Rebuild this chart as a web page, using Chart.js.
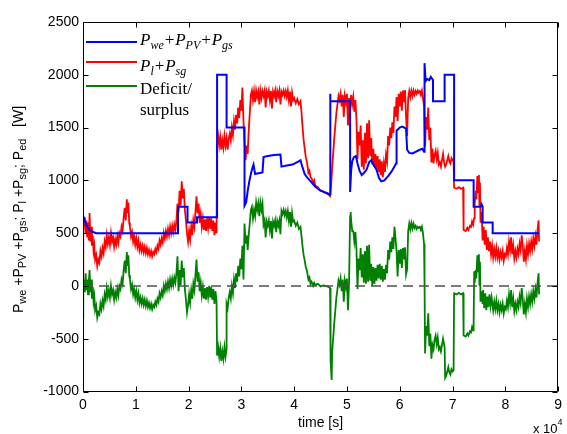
<!DOCTYPE html>
<html>
<head>
<meta charset="utf-8">
<script src="https://cdn.jsdelivr.net/npm/chart.js@4.4.0/dist/chart.umd.min.js"></script>
<style>
  html, body { margin: 0; padding: 0; background: #fff; }
</style>
</head>
<body>
<canvas id="powerChart" width="567" height="434"></canvas>
<script>
// time in x10^4 s, power in W
const blue = [
  [0, 670], [0.03, 620], [0.06, 580], [0.1, 545], [0.15, 520], [0.25, 500], [1.8, 500], [1.8, 750],
  [1.98, 750], [1.98, 600], [2.16, 600], [2.16, 650], [2.54, 650], [2.54, 2000], [2.72, 2000],
  [2.72, 1500], [3.06, 1500], [3.06, 760], [3.09, 790], [3.12, 900], [3.15, 990], [3.18, 1060],
  [3.21, 1120], [3.23, 1150], [3.26, 1060], [3.3, 1065], [3.4, 1075], [3.42, 1220], [3.5, 1230],
  [3.62, 1240], [3.74, 1245], [3.76, 1130], [3.86, 1140], [3.97, 1150], [4.05, 1170], [4.12, 1190],
  [4.16, 1120], [4.2, 1060], [4.24, 1030], [4.28, 1010], [4.33, 980], [4.4, 940], [4.48, 910],
  [4.56, 890], [4.62, 880], [4.68, 865], [4.68, 1820], [4.69, 1750], [5.06, 1750], [5.06, 890],
  [5.08, 1100], [5.1, 1180], [5.13, 1220], [5.17, 1230], [5.2, 1160], [5.24, 1090], [5.28, 1050],
  [5.32, 1070], [5.37, 1100], [5.42, 1170], [5.46, 1190], [5.5, 1150], [5.56, 1100], [5.61, 1020],
  [5.65, 990], [5.71, 1000], [5.78, 1040], [5.84, 1080], [5.9, 1130], [5.93, 1160], [5.94, 1470],
  [6.0, 1500], [6.05, 1510], [6.12, 1490], [6.14, 1290], [6.18, 1260], [6.24, 1255], [6.3, 1270],
  [6.36, 1285], [6.43, 1300], [6.46, 1270], [6.47, 2110], [6.49, 1940], [6.52, 1960], [6.56, 1950],
  [6.59, 1980], [6.63, 1950], [6.63, 1750], [6.85, 1750], [6.85, 2000], [7.03, 2000], [7.03, 1000],
  [7.4, 1000], [7.4, 750], [7.53, 750], [7.55, 775], [7.57, 750], [7.57, 600], [7.76, 600],
  [7.76, 500], [8.64, 500]
];

const red = [
  [0, 0], [0.005, 640], [0.02, 560], [0.035, 650], [0.05, 500], [0.065, 620], [0.08, 460], [0.095, 600],
  [0.11, 430], [0.125, 690], [0.14, 420], [0.155, 560], [0.17, 380], [0.185, 470], [0.2, 330],
  [0.215, 380], [0.23, 250], [0.25, 290], [0.27, 190], [0.29, 250], [0.31, 220], [0.33, 330],
  [0.35, 280], [0.37, 360], [0.39, 310], [0.41, 420], [0.43, 370], [0.45, 480], [0.47, 400],
  [0.49, 460], [0.51, 390], [0.53, 500], [0.55, 420], [0.57, 460], [0.59, 370], [0.61, 440],
  [0.63, 390], [0.65, 470], [0.67, 410], [0.69, 500], [0.71, 470], [0.73, 560], [0.75, 520],
  [0.77, 650], [0.79, 740], [0.81, 620], [0.83, 820], [0.845, 690], [0.86, 790], [0.875, 600],
  [0.89, 560], [0.91, 470], [0.93, 510], [0.95, 420], [0.97, 470], [0.99, 390], [1.01, 450],
  [1.03, 370], [1.05, 430], [1.07, 340], [1.09, 390], [1.11, 330], [1.13, 380], [1.15, 320],
  [1.17, 370], [1.19, 310], [1.21, 360], [1.23, 300], [1.25, 340], [1.27, 290], [1.29, 330],
  [1.31, 280], [1.33, 320], [1.35, 300], [1.37, 350], [1.39, 320], [1.41, 380], [1.43, 350],
  [1.45, 430], [1.47, 390], [1.49, 450], [1.51, 410], [1.53, 500], [1.55, 450], [1.57, 520],
  [1.59, 470], [1.61, 540], [1.63, 480], [1.65, 560], [1.67, 500], [1.69, 570], [1.71, 510],
  [1.73, 580], [1.75, 530], [1.77, 620], [1.79, 780], [1.81, 700], [1.83, 900], [1.85, 760],
  [1.87, 990], [1.89, 830], [1.91, 920], [1.93, 720], [1.95, 620], [1.97, 500], [1.99, 420],
  [2.01, 520], [2.03, 440], [2.05, 560], [2.07, 480], [2.09, 620], [2.11, 560], [2.13, 700],
  [2.15, 850], [2.17, 690], [2.19, 780], [2.21, 600], [2.23, 680], [2.25, 560], [2.27, 640],
  [2.29, 530], [2.31, 630], [2.33, 520], [2.35, 640], [2.37, 550], [2.39, 650], [2.41, 540],
  [2.43, 640], [2.45, 520], [2.47, 620], [2.49, 480], [2.51, 600], [2.53, 500],
  [2.54, 1340], [2.56, 1420], [2.58, 1330], [2.6, 1410], [2.62, 1290], [2.64, 1380], [2.66, 1310],
  [2.68, 1420], [2.7, 1330], [2.72, 1400], [2.74, 1290], [2.76, 1390], [2.78, 1440], [2.8, 1380],
  [2.82, 1500], [2.84, 1430], [2.86, 1560], [2.88, 1480], [2.9, 1620], [2.92, 1540], [2.94, 1690],
  [2.96, 1590], [2.98, 1760], [3.0, 1660], [3.02, 1880], [3.04, 1560], [3.06, 1350], [3.08, 1190],
  [3.1, 1330], [3.12, 1250], [3.14, 1480], [3.16, 1640], [3.18, 1810], [3.2, 1850], [3.22, 1760],
  [3.24, 1845], [3.26, 1740], [3.28, 1850], [3.3, 1790], [3.32, 1840], [3.34, 1720], [3.36, 1850],
  [3.38, 1780], [3.4, 1845], [3.42, 1800], [3.44, 1850], [3.46, 1690], [3.48, 1840], [3.5, 1800],
  [3.52, 1850], [3.54, 1760], [3.56, 1845], [3.58, 1680], [3.6, 1840], [3.62, 1800], [3.64, 1850],
  [3.66, 1740], [3.68, 1845], [3.7, 1800], [3.72, 1850], [3.74, 1720], [3.76, 1840], [3.78, 1810],
  [3.8, 1850], [3.82, 1800], [3.84, 1845], [3.86, 1790], [3.88, 1850], [3.9, 1760], [3.92, 1840],
  [3.94, 1700], [3.96, 1830], [3.98, 1760], [4.0, 1780], [4.03, 1730], [4.06, 1770], [4.09, 1720],
  [4.12, 1750], [4.14, 1640], [4.16, 1500], [4.18, 1380], [4.2, 1300], [4.22, 1220], [4.24, 1180],
  [4.26, 1110], [4.27, 1070], [4.29, 1090], [4.31, 1030], [4.33, 1020], [4.36, 980], [4.38, 1000],
  [4.4, 950], [4.45, 935], [4.5, 900], [4.55, 895], [4.6, 880], [4.65, 865], [4.68, 850],
  [4.7, 950], [4.72, 1120], [4.74, 1260], [4.76, 1400], [4.78, 1520], [4.8, 1640], [4.82, 1720],
  [4.84, 1800], [4.86, 1760], [4.88, 1820], [4.9, 1700], [4.92, 1810], [4.94, 1600], [4.96, 1800],
  [4.98, 1740], [5.0, 1820], [5.02, 1520], [5.04, 1780], [5.06, 1690], [5.08, 1810], [5.1, 1720],
  [5.12, 1790], [5.14, 1650], [5.16, 1760], [5.18, 1580], [5.2, 1200], [5.22, 1460], [5.24, 1330],
  [5.26, 1520], [5.28, 1130], [5.3, 1380], [5.32, 1100], [5.34, 1450], [5.36, 1160], [5.38, 1540],
  [5.4, 1210], [5.42, 1570], [5.44, 1230], [5.46, 1400], [5.48, 1150], [5.5, 1300], [5.52, 1130],
  [5.54, 1250], [5.56, 1100], [5.58, 1230], [5.6, 1080], [5.62, 1200], [5.64, 1050], [5.66, 1180],
  [5.68, 1030], [5.7, 1160], [5.72, 1080], [5.74, 1240], [5.76, 1180], [5.78, 1420], [5.8, 1330],
  [5.82, 1500], [5.84, 1400], [5.86, 1550], [5.88, 1450], [5.9, 1700], [5.92, 1600], [5.94, 1790],
  [5.96, 1560], [5.98, 1820], [6.0, 1700], [6.02, 1840], [6.04, 1660], [6.06, 1850], [6.08, 1740],
  [6.1, 1855], [6.12, 1600], [6.14, 1420], [6.16, 1780], [6.18, 1845], [6.2, 1790], [6.22, 1850],
  [6.24, 1800], [6.26, 1850], [6.28, 1810], [6.3, 1845], [6.32, 1820], [6.34, 1850], [6.36, 1830],
  [6.38, 1845], [6.4, 1810], [6.42, 1850], [6.44, 1780], [6.46, 1700], [6.48, 1320], [6.5, 1600],
  [6.52, 1480], [6.54, 1690], [6.56, 1380], [6.58, 1500], [6.6, 1170], [6.62, 1300], [6.64, 1160],
  [6.66, 1240], [6.68, 1280], [6.7, 1200], [6.72, 1260], [6.74, 1150], [6.76, 1170], [6.78, 1130],
  [6.8, 1190], [6.82, 1250], [6.84, 1170], [6.86, 1130], [6.88, 1150], [6.9, 1190], [6.92, 1230],
  [6.94, 1180], [6.96, 1160], [6.98, 1210], [7.0, 1190], [7.02, 1200], [7.03, 930], [7.08, 920],
  [7.12, 935], [7.16, 920], [7.2, 930], [7.21, 530], [7.25, 520], [7.28, 550], [7.3, 530],
  [7.33, 570], [7.35, 560], [7.37, 610], [7.39, 580], [7.41, 640], [7.42, 780], [7.44, 900],
  [7.45, 820], [7.47, 1040], [7.48, 880], [7.5, 1050], [7.51, 760], [7.52, 980], [7.53, 600],
  [7.55, 700], [7.57, 430], [7.59, 560], [7.61, 390], [7.63, 530], [7.65, 340], [7.67, 460],
  [7.69, 330], [7.71, 420], [7.73, 300], [7.75, 380], [7.77, 270], [7.79, 350], [7.81, 280],
  [7.83, 360], [7.85, 270], [7.87, 330], [7.89, 250], [7.91, 320], [7.93, 270], [7.95, 330],
  [7.97, 240], [7.99, 300], [8.01, 280], [8.03, 360], [8.05, 300], [8.07, 420], [8.09, 340],
  [8.11, 460], [8.13, 300], [8.15, 380], [8.17, 260], [8.19, 330], [8.21, 270], [8.23, 350],
  [8.25, 300], [8.27, 400], [8.29, 340], [8.31, 480], [8.33, 380], [8.35, 230], [8.37, 330],
  [8.39, 250], [8.41, 380], [8.43, 300], [8.45, 400], [8.47, 330], [8.49, 420], [8.51, 350],
  [8.53, 450], [8.55, 380], [8.57, 470], [8.59, 390], [8.61, 530], [8.63, 620], [8.64, 420]
];

const green = [
  [0, -300], [0.005, -20], [0.02, 60], [0.035, -60], [0.05, 120], [0.065, -40], [0.08, 60],
  [0.095, -80], [0.11, 40], [0.125, 150], [0.14, -60], [0.155, 60], [0.17, -120], [0.185, -10],
  [0.2, -150], [0.215, -100], [0.23, -230], [0.25, -190], [0.27, -300], [0.29, -250], [0.31, -270],
  [0.33, -170], [0.35, -220], [0.37, -140], [0.39, -190], [0.41, -80], [0.43, -130], [0.45, -20],
  [0.47, -100], [0.49, -40], [0.51, -110], [0.53, 0], [0.55, -80], [0.57, -40], [0.59, -130],
  [0.61, -60], [0.63, -110], [0.65, -30], [0.67, -90], [0.69, 0], [0.71, -30], [0.73, 60],
  [0.75, 20], [0.77, 150], [0.79, 240], [0.81, 120], [0.83, 320], [0.845, 190], [0.86, 290],
  [0.875, 100], [0.89, 60], [0.91, -30], [0.93, 10], [0.95, -80], [0.97, -30], [0.99, -110],
  [1.01, -50], [1.03, -130], [1.05, -70], [1.07, -160], [1.09, -110], [1.11, -170], [1.13, -120],
  [1.15, -180], [1.17, -130], [1.19, -190], [1.21, -140], [1.23, -200], [1.25, -160], [1.27, -210],
  [1.29, -170], [1.31, -220], [1.33, -180], [1.35, -200], [1.37, -150], [1.39, -180], [1.41, -120],
  [1.43, -150], [1.45, -70], [1.47, -110], [1.49, -50], [1.51, -90], [1.53, 0], [1.55, -50],
  [1.57, 20], [1.59, -30], [1.61, 40], [1.63, -20], [1.65, 60], [1.67, 0], [1.69, 70], [1.71, 10],
  [1.73, 80], [1.75, 30], [1.77, 120], [1.79, 280], [1.81, -50], [1.83, 150], [1.85, 10],
  [1.87, 240], [1.89, 80], [1.91, 170], [1.93, -30], [1.95, -130], [1.97, -250], [1.99, -180],
  [2.01, -80], [2.03, -160], [2.05, -40], [2.07, -120], [2.09, 20], [2.11, -40], [2.13, 100],
  [2.15, 250], [2.17, 40], [2.19, 130], [2.21, -50], [2.23, 30], [2.25, -90], [2.27, -10],
  [2.29, -120], [2.31, -20], [2.33, -130], [2.35, -10], [2.37, -100], [2.39, 0], [2.41, -110],
  [2.43, -10], [2.45, -130], [2.47, -30], [2.49, -170], [2.51, -50], [2.53, -150],
  [2.54, -660], [2.56, -580], [2.58, -670], [2.6, -590], [2.62, -710], [2.64, -620], [2.66, -690],
  [2.68, -580], [2.7, -670], [2.72, -600], [2.72, -170], [2.74, -210], [2.76, -110], [2.78, -60],
  [2.8, -120], [2.82, 0], [2.84, -70], [2.86, 60], [2.88, -20], [2.9, 120], [2.92, 40], [2.94, 190],
  [2.96, 90], [2.98, 260], [3.0, 160], [3.02, 380], [3.04, 60], [3.06, 590], [3.08, 400], [3.1, 480],
  [3.12, 340], [3.14, 490], [3.16, 600], [3.18, 720], [3.2, 750], [3.22, 640], [3.24, 720],
  [3.26, 660], [3.28, 790], [3.3, 720], [3.32, 780], [3.34, 660], [3.36, 790], [3.38, 720],
  [3.4, 780], [3.42, 580], [3.44, 620], [3.46, 460], [3.48, 610], [3.5, 570], [3.52, 620],
  [3.54, 530], [3.56, 615], [3.58, 450], [3.6, 610], [3.62, 570], [3.64, 620], [3.66, 510],
  [3.68, 615], [3.7, 570], [3.72, 620], [3.74, 490], [3.76, 710], [3.78, 680], [3.8, 720],
  [3.82, 670], [3.84, 710], [3.86, 650], [3.88, 710], [3.9, 620], [3.92, 700], [3.94, 560],
  [3.96, 690], [3.98, 610], [4.0, 620], [4.03, 570], [4.06, 600], [4.09, 540], [4.12, 560],
  [4.14, 470], [4.16, 370], [4.18, 290], [4.2, 240], [4.22, 180], [4.24, 150], [4.26, 90],
  [4.27, 60], [4.29, 80], [4.31, 20], [4.33, 40], [4.36, 0], [4.38, 30], [4.4, 10], [4.45, 20],
  [4.5, -5], [4.55, 5], [4.6, 0], [4.65, -10], [4.68, -20], [4.69, -700], [4.7, -800], [4.71, -890],
  [4.72, -630], [4.74, -490], [4.76, -350], [4.78, -230], [4.8, -110], [4.82, -30], [4.84, 50],
  [4.86, 10], [4.88, 70], [4.9, -50], [4.92, 60], [4.94, -150], [4.96, 50], [4.98, -10], [5.0, 70],
  [5.02, -230], [5.04, 30], [5.06, 660], [5.07, 700], [5.08, 620], [5.1, 520], [5.12, 520],
  [5.14, 420], [5.16, 510], [5.18, 350], [5.2, -30], [5.22, 260], [5.24, 150], [5.26, 360],
  [5.28, 80], [5.3, 300], [5.32, 30], [5.34, 330], [5.36, 20], [5.38, 380], [5.4, 40], [5.42, 390],
  [5.44, 50], [5.46, 210], [5.48, 0], [5.5, 180], [5.52, 20], [5.54, 170], [5.56, 50], [5.58, 200],
  [5.6, 70], [5.62, 210], [5.64, 60], [5.66, 190], [5.68, 40], [5.7, 160], [5.72, 60], [5.74, 200],
  [5.76, 120], [5.78, 340], [5.8, 250], [5.82, 420], [5.84, 320], [5.86, 460], [5.88, 350],
  [5.9, 560], [5.92, 450], [5.94, 330], [5.96, 90], [5.98, 340], [6.0, 210], [6.02, 350],
  [6.04, 170], [6.06, 360], [6.08, 250], [6.1, 365], [6.12, 110], [6.14, 160], [6.16, 520],
  [6.18, 590], [6.2, 535], [6.22, 595], [6.24, 545], [6.26, 590], [6.28, 550], [6.3, 570],
  [6.32, 540], [6.34, 560], [6.36, 550], [6.38, 560], [6.4, 530], [6.42, 560], [6.44, 500],
  [6.46, 400], [6.47, 20], [6.48, -640], [6.5, -380], [6.52, -470], [6.54, -260], [6.56, -570],
  [6.58, -450], [6.6, -690], [6.62, -560], [6.64, -600], [6.66, -510], [6.68, -470], [6.7, -550],
  [6.72, -490], [6.74, -600], [6.76, -580], [6.78, -620], [6.8, -560], [6.82, -500], [6.85, -580],
  [6.86, -870], [6.88, -850], [6.9, -810], [6.92, -770], [6.94, -820], [6.96, -840], [6.98, -790],
  [7.0, -810], [7.02, -800], [7.03, -70], [7.08, -80], [7.12, -65], [7.16, -80], [7.2, -70],
  [7.21, -470], [7.25, -480], [7.28, -450], [7.3, -470], [7.33, -430], [7.35, -440], [7.37, -390],
  [7.39, -420], [7.4, -360], [7.41, 140], [7.42, 30], [7.44, 150], [7.45, 70], [7.47, 290],
  [7.48, 130], [7.5, 300], [7.51, 10], [7.52, 230], [7.53, -150], [7.55, -50], [7.57, -170],
  [7.58, -40], [7.6, -210], [7.62, -70], [7.64, -230], [7.66, -100], [7.68, -200], [7.7, -80],
  [7.72, -190], [7.74, -110], [7.77, -230], [7.79, -150], [7.81, -220], [7.83, -140], [7.85, -230],
  [7.87, -170], [7.89, -250], [7.91, -180], [7.93, -230], [7.95, -170], [7.97, -260], [7.99, -200],
  [8.01, -220], [8.03, -140], [8.05, -200], [8.07, -80], [8.09, -160], [8.11, -40], [8.13, -200],
  [8.15, -120], [8.17, -240], [8.19, -170], [8.21, -230], [8.23, -150], [8.25, -200], [8.27, -100],
  [8.29, -160], [8.31, -20], [8.33, -120], [8.35, -270], [8.37, -170], [8.39, -250], [8.41, -120],
  [8.43, -200], [8.45, -100], [8.47, -170], [8.49, -80], [8.51, -150], [8.53, -50], [8.55, -120],
  [8.57, -30], [8.59, -110], [8.61, 30], [8.63, 120], [8.64, -80]
];

const zeroLine = [[0, 0], [9, 0]];

const xTicks = [0, 1, 2, 3, 4, 5, 6, 7, 8, 9];
const yTicks = [-1000, -500, 0, 500, 1000, 1500, 2000, 2500];

// text pieces: [text, 0 normal | 1 subscript | 2 superscript]
const yTitle = [["P", 0], ["we", 1], [" +P", 0], ["PV", 1], [" +P", 0], ["gs", 1], ["; P", 0], ["l", 1],
  [" +P", 0], ["sg", 1], ["; P", 0], ["ed", 1], ["   [W]", 0]];
const legendRows = [
  { color: "#0000ff", lines: [[["P", 0], ["we", 1], ["+P", 0], ["PV", 1], ["+P", 0], ["gs", 1]]], italic: true },
  { color: "#ff0000", lines: [[["P", 0], ["l", 1], ["+P", 0], ["sg", 1]]], italic: true },
  { color: "#008000", lines: [[["Deficit/", 0]], [["surplus", 0]]], italic: false },
];

const SANS = '"Liberation Sans", Arial, sans-serif';
const SERIF = '"Liberation Serif", "Times New Roman", serif';

function pieceWidth(ctx, parts, font, subFont) {
  let w = 0;
  for (const [txt, kind] of parts) {
    ctx.font = kind ? subFont : font;
    w += ctx.measureText(txt).width;
  }
  return w;
}

function drawPieces(ctx, parts, x, y, font, subFont, subDy, supDy) {
  let cx = x;
  for (const [txt, kind] of parts) {
    ctx.font = kind ? subFont : font;
    const dy = kind === 1 ? subDy : kind === 2 ? -supDy : 0;
    ctx.fillText(txt, cx, y + dy);
    cx += ctx.measureText(txt).width;
  }
}

//Box, inward ticks, labels and legend
const decorations = {
  id: "decorations",
  afterDatasetsDraw(chart) {
    const { ctx, chartArea: a, scales } = chart;
    const L = Math.round(a.left) + 0.5;
    const R = Math.round(a.right) - 0.5;
    const T = Math.round(a.top) + 0.5;
    const B = Math.round(a.bottom) - 0.5;
    ctx.save();
    ctx.strokeStyle = "#000";
    ctx.lineWidth = 1;
    ctx.beginPath();
    ctx.rect(L, T, R - L, B - T);
    for (const v of yTicks) {
      const py = Math.round(scales.y.getPixelForValue(v)) + 0.5;
      ctx.moveTo(L, py); ctx.lineTo(L + 5, py);
      ctx.moveTo(R, py); ctx.lineTo(R - 5, py);
    }
    for (const v of xTicks) {
      const px = Math.round(scales.x.getPixelForValue(v)) + 0.5;
      ctx.moveTo(px, B); ctx.lineTo(px, B - 5);
      ctx.moveTo(px, T); ctx.lineTo(px, T + 5);
    }
    ctx.stroke();

    ctx.fillStyle = "#000";
    ctx.textBaseline = "alphabetic";
    ctx.textAlign = "left";

    // y axis title, rotated
    const yf = "14px " + SANS, ysf = "11px " + SANS;
    const w = pieceWidth(ctx, yTitle, yf, ysf);
    ctx.save();
    ctx.translate(22.5, 209.5);
    ctx.rotate(-Math.PI / 2);
    drawPieces(ctx, yTitle, -w / 2, 0, yf, ysf, 3, 0);
    ctx.restore();

    // x axis title
    ctx.font = "14px " + SANS;
    ctx.textAlign = "center";
    ctx.fillText("time [s]", (a.left + a.right) / 2, 427);
    ctx.textAlign = "left";
    drawPieces(ctx, [["x 10", 0], ["4", 2]], 533, 433, "13px " + SANS, "9px " + SANS, 0, 8);

    // legend
    const rowY = [[45], [71], [94, 115]];
    const lineY = [42, 62, 86];
    legendRows.forEach((row, i) => {
      ctx.strokeStyle = row.color;
      ctx.lineWidth = 2;
      ctx.beginPath();
      ctx.moveTo(86, lineY[i]);
      ctx.lineTo(137, lineY[i]);
      ctx.stroke();
      const st = row.italic ? "italic " : "";
      row.lines.forEach((parts, j) => {
        drawPieces(ctx, parts, 140, rowY[i][j], st + "17px " + SERIF, st + "12px " + SERIF, 4, 0);
      });
    });
    ctx.restore();
  }
};

const ctx = document.getElementById("powerChart").getContext("2d");
new Chart(ctx, {
  type: "line",
  data: {
    datasets: [
      { data: zeroLine, borderColor: "#505050", borderWidth: 1.5, borderDash: [10, 6], order: 0 },
      { data: green, borderColor: "#008000", borderWidth: 1.8, order: 1 },
      { data: blue, borderColor: "#0000ff", borderWidth: 2, order: 2 },
      { data: red, borderColor: "#ff0000", borderWidth: 1.8, order: 3 },
    ],
  },
  options: {
    responsive: false,
    animation: false,
    devicePixelRatio: 1,
    layout: { padding: { top: 22, right: 2.5, left: 0, bottom: 0 } },
    elements: { point: { radius: 0 }, line: { tension: 0, fill: false } },
    plugins: { legend: { display: false }, tooltip: { enabled: false } },
    scales: {
      x: {
        type: "linear",
        min: 0,
        max: 9,
        grid: { display: false, drawTicks: false },
        border: { display: false },
        afterBuildTicks: (s) => { s.ticks = xTicks.map((v) => ({ value: v })); },
        afterFit: (s) => { s.height = 42.5; },
        ticks: { color: "#000", padding: 5, autoSkip: false, maxRotation: 0,
          font: { family: SANS, size: 14 }, callback: (v) => String(v) },
      },
      y: {
        min: -1000,
        max: 2500,
        grid: { display: false, drawTicks: false },
        border: { display: false },
        afterBuildTicks: (s) => { s.ticks = yTicks.map((v) => ({ value: v })); },
        afterFit: (s) => { s.width = 83; },
        ticks: { color: "#000", padding: 4, font: { family: SANS, size: 14 }, callback: (v) => String(v) },
      },
    },
  },
  plugins: [decorations],
});
</script>
</body>
</html>
